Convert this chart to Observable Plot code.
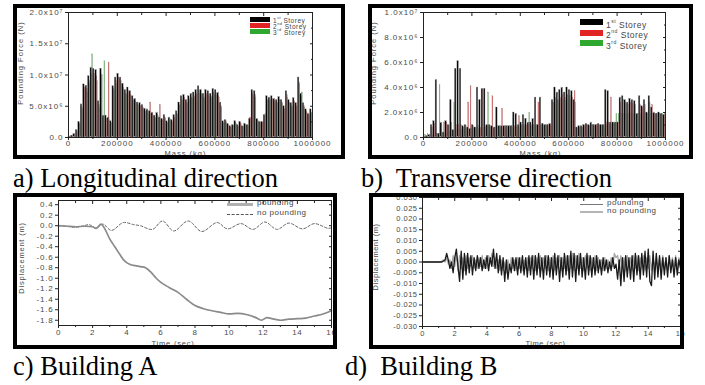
<!DOCTYPE html>
<html><head><meta charset="utf-8">
<script src="https://cdn.jsdelivr.net/npm/d3@7"></script>
<script src="https://cdn.jsdelivr.net/npm/@observablehq/plot@0.6"></script>
<style>
html,body{margin:0;padding:0;background:#fff;}
#page{position:relative;width:705px;height:385px;overflow:hidden;background:#fff;}
.panel{position:absolute;}
.panel svg{position:absolute;left:0;top:0;overflow:visible;}
.border{position:absolute;border:4px solid #000;box-sizing:border-box;pointer-events:none;}
.cap{position:absolute;font-family:"Liberation Serif","Times New Roman",Tinos,"DejaVu Serif",serif;font-size:26.5px;line-height:26px;white-space:pre;color:#000;}
.leg{position:absolute;font-family:"Liberation Sans",Arial,sans-serif;color:#444;white-space:nowrap;letter-spacing:0.5px;}
.sw{position:absolute;}
</style></head>
<body><div id="page"></div>
<script>
// ---------- DATA ----------
const storeyNames = ["1st Storey","2nd Storey","3rd Storey"];
const storeySup = [["1","st"],["2","nd"],["3","rd"]];
const storeyColors = ["#000000","#e02424","#2fa82f"];
const massStep = 10000; // kg, bin width (bins 10 000 ... 1 000 000)

// a) Longitudinal direction, pounding force in 10^6 N
const longBlack = [
 0.1,0.3,0.6,1.2,2.5,5.3,8.5,8.3,9.8,11.2,
 11.0,10.8,5.8,11.0,3.5,3.5,3.2,2.6,8.2,9.6,
 10.2,9.6,8.6,7.6,8.0,7.4,6.6,6.2,5.6,5.5,
 5.2,4.6,4.5,4.2,4.0,3.5,4.0,3.2,3.0,3.6,
 2.6,3.2,2.8,3.6,4.2,5.6,6.6,6.8,6.0,6.6,
 7.0,7.2,7.6,8.2,7.6,7.0,7.6,7.4,7.0,7.8,
 7.6,7.2,5.6,2.6,2.8,2.2,1.8,2.0,2.6,2.0,
 2.5,1.8,2.2,2.0,3.0,7.6,7.4,3.0,2.5,2.5,
 3.6,6.6,6.4,6.6,6.2,6.0,6.5,6.0,5.0,7.4,
 6.0,5.5,6.3,5.5,9.6,7.0,5.5,4.5,3.8,4.5];
const longRed = [
 0.1,0.2,0.5,1.0,2.2,4.8,8.0,7.8,9.0,10.2,
 10.2,9.8,5.2,10.0,3.2,3.0,12.0,2.4,7.8,9.0,
 9.6,9.0,8.0,7.0,7.4,6.8,6.0,5.8,5.2,5.0,
 4.8,4.2,4.2,5.6,3.8,3.2,3.6,5.2,2.8,3.2,
 2.4,3.0,2.6,3.2,3.8,5.2,6.0,6.4,5.6,6.2,
 6.4,6.6,7.0,7.4,7.0,6.4,7.0,6.8,6.5,7.2,
 7.0,6.6,5.0,2.4,2.6,2.0,1.6,1.9,2.4,1.8,
 2.3,1.7,2.0,1.9,3.2,7.0,6.8,2.8,2.4,2.4,
 3.4,6.0,6.0,6.2,5.8,5.6,6.0,5.6,4.6,6.8,
 5.6,5.0,5.8,5.0,8.8,6.5,5.0,4.2,3.5,4.0];
const longGreen = [
 0.0,0.2,0.4,0.8,2.0,4.5,7.5,7.2,8.6,13.3,
 9.5,9.0,4.8,10.0,12.2,3.0,2.8,2.2,7.5,8.6,
 9.2,8.6,7.6,6.8,7.0,6.5,5.8,5.5,5.0,4.8,
 4.5,4.0,3.8,3.6,3.5,3.0,3.4,2.8,2.6,3.0,
 2.2,2.8,2.4,3.0,3.6,5.0,5.8,6.0,5.4,5.8,
 6.2,6.4,6.8,7.0,6.8,6.2,6.6,6.5,6.2,6.8,
 6.6,6.4,4.8,2.2,2.4,1.9,1.5,1.8,2.2,1.7,
 2.2,1.6,1.9,1.8,2.8,6.6,6.4,2.6,2.3,2.4,
 3.8,5.8,5.8,6.0,5.6,5.4,5.8,5.4,4.4,6.4,
 5.4,4.8,5.6,4.8,8.5,7.2,4.8,4.0,3.6,3.8];

// b) Transverse direction, pounding force in 10^6 N
const transBlack = [
 0.05,0.1,0.2,1.0,1.3,4.6,0.3,1.2,0.4,1.3,
 1.0,3.0,0.6,5.5,6.1,5.5,0.9,1.0,0.8,0.7,
 1.0,0.8,4.0,3.0,3.9,3.9,1.0,1.0,0.9,0.8,
 2.4,0.9,0.9,0.9,0.9,0.9,0.9,2.0,1.9,1.0,
 1.2,1.8,1.5,1.2,1.2,1.5,3.2,1.0,3.2,1.1,
 1.0,1.0,1.1,3.0,4.0,3.6,3.8,4.0,3.6,4.0,
 3.8,3.7,3.0,0.8,0.9,0.9,1.0,1.1,1.0,1.2,
 1.0,1.0,1.1,1.0,1.0,3.8,3.7,1.2,1.2,1.2,
 1.2,3.2,3.3,3.0,2.8,3.1,3.0,2.9,1.9,3.3,
 2.5,3.0,2.0,3.3,2.4,2.0,1.9,2.0,1.9,1.8];
const transRed = [
 0.0,0.1,0.2,0.8,1.1,0.3,0.3,1.1,1.2,1.2,
 0.9,1.2,0.5,1.0,1.0,1.0,0.8,0.9,2.8,4.1,
 0.9,0.8,0.9,0.8,3.8,0.9,0.9,0.9,3.3,0.8,
 0.9,0.9,2.3,0.9,0.9,0.9,0.9,0.9,0.9,1.7,
 1.0,1.0,1.0,1.0,1.0,1.0,1.0,2.8,1.0,1.0,
 1.0,1.0,1.0,2.8,3.2,3.0,3.2,3.4,3.2,3.4,
 3.3,3.2,3.7,0.8,0.8,0.8,0.9,1.0,0.9,1.0,
 1.0,1.0,1.0,1.0,1.0,1.2,1.2,3.2,1.2,1.2,
 1.2,2.8,3.0,2.8,2.6,2.8,2.7,2.6,1.8,2.6,
 2.4,2.6,1.9,2.8,2.6,1.9,1.9,1.9,1.9,1.8];
const transGreen = [
 0.2,0.3,0.1,0.2,0.2,0.3,4.2,0.3,0.3,0.4,
 0.5,0.6,2.8,0.6,0.6,0.6,0.6,0.7,0.7,0.7,
 0.7,0.7,0.7,0.7,0.8,0.8,3.6,0.8,0.8,0.8,
 0.8,0.8,0.8,0.8,0.8,0.8,0.8,0.8,0.8,0.8,
 0.9,0.9,0.9,2.0,0.9,0.9,0.9,0.9,0.9,0.9,
 0.9,0.9,0.9,2.8,3.0,2.9,3.0,3.0,2.9,3.0,
 3.0,3.0,2.8,0.7,0.8,0.8,0.9,0.9,0.9,1.0,
 0.9,0.9,0.9,0.9,0.9,1.0,1.0,1.0,1.1,1.9,
 1.9,1.9,1.9,1.9,1.9,1.9,1.9,1.9,1.9,1.9,
 1.9,1.9,1.9,1.9,1.9,1.9,1.9,1.9,1.9,1.9];

const massTicks = [0,200000,400000,600000,800000,1000000];
const massMinor = [100000,300000,500000,700000,900000];
const longYTicks = [0,5,10,15,20];
const longYLabels = ["0.0","5.0x10\u2076","1.0x10\u2077","1.5x10\u2077","2.0x10\u2077"];
const transYTicks = [0,2,4,6,8,10];
const transYLabels = ["0.0","2.0x10\u2076","4.0x10\u2076","6.0x10\u2076","8.0x10\u2076","1.0x10\u2077"];

// c) Building A displacement (m)
const cPoundT = [0,0.5,1,1.5,2,2.2,2.5,2.7,3,3.3,3.6,3.9,4.2,4.5,4.8,5.1,5.4,5.7,6,6.5,7,7.5,8,8.5,9,9.5,10,10.5,11,11.5,11.9,12.2,12.5,13,13.5,14,14.5,15,15.5,16];
const cPoundV = [0,-0.01,-0.02,-0.01,-0.02,-0.05,0.03,-0.05,-0.25,-0.4,-0.55,-0.68,-0.74,-0.76,-0.78,-0.8,-0.88,-0.99,-1.08,-1.18,-1.27,-1.4,-1.52,-1.58,-1.62,-1.65,-1.68,-1.67,-1.69,-1.74,-1.8,-1.75,-1.77,-1.8,-1.78,-1.77,-1.76,-1.72,-1.68,-1.62];
const cNoT = [0,0.5,1,1.5,1.8,2.2,2.6,3.1,3.8,4.4,4.8,5.5,6.1,6.75,7.6,8.4,9.3,9.9,10.7,11.4,12.1,12.8,13.5,14.3,15.0,15.8,16];
const cNoV = [0,-0.01,-0.03,0.0,0.02,-0.05,0.03,-0.09,0.06,0.02,0.0,-0.07,0.09,-0.1,0.09,-0.11,0.06,-0.06,0.04,-0.07,0.07,-0.07,0.05,-0.06,0.04,-0.05,-0.04];
const cYTicks = [0.4,0.2,0,-0.2,-0.4,-0.6,-0.8,-1.0,-1.2,-1.4,-1.6,-1.8];
const timeTicks = [0,2,4,6,8,10,12,14,16];
const timeMinor = [1,3,5,7,9,11,13,15];

// d) Building B displacement (m), sampled every 0.1 s, one row per second
const dStep = 0.1;
const dPoundRows = [
 [0,0,0,0,0,0,0,0,0,0],
 [0,0,0,0.0005,0.001,0.004,0.001,-0.003,0.000,-0.005],
 [0.002,0.006,-0.002,-0.009,0.005,-0.008,0.004,-0.006,0.004,-0.005],
 [0.003,-0.006,0.002,-0.004,0.003,-0.003,0.002,-0.004,0.001,-0.003],
 [0.003,-0.004,0.002,-0.002,0.006,-0.003,0.004,-0.005,0.003,-0.006],
 [0.002,-0.009,0.001,-0.008,-0.001,-0.005,0.002,-0.004,0.002,-0.006],
 [0.002,-0.005,0.003,-0.006,0.002,-0.007,0.003,-0.006,0.003,-0.008],
 [0.003,-0.006,0.004,-0.007,0.002,-0.008,0.003,-0.006,0.003,-0.007],
 [0.002,-0.008,0.004,-0.006,0.003,-0.009,0.002,-0.007,0.004,-0.006],
 [0.003,-0.008,0.005,-0.007,0.004,-0.009,0.003,-0.006,0.004,-0.007],
 [0.002,-0.008,0.004,-0.006,0.003,-0.007,0.002,-0.006,0.003,-0.005],
 [0.001,-0.006,0.002,-0.004,0.001,-0.005,0.000,-0.004,0.002,-0.003],
 [-0.001,-0.008,0.001,-0.011,0.002,-0.009,0.003,-0.007,0.002,-0.008],
 [0.003,-0.009,0.004,-0.006,0.003,-0.008,0.004,-0.006,0.005,-0.007],
 [0.006,-0.009,-0.011,0.005,-0.008,0.004,-0.007,0.003,-0.008,0.002],
 [-0.006,0.002,-0.007,0.003,-0.005,0.001,-0.007,0.002,-0.006,0.001],
 [-0.003]];
const dNoRows = [
 [0,0,0,0,0,0,0,0,0,0],
 [0,0,0.0005,0.001,0,0.002,-0.001,0.001,-0.003,0.003],
 [-0.002,0.004,-0.004,0.003,-0.003,0.002,-0.004,0.003,-0.003,0.002],
 [-0.002,0.003,-0.003,0.001,-0.003,0.002,-0.002,0.003,-0.003,0.002],
 [-0.003,0.003,-0.001,0.004,-0.002,0.002,-0.003,0.001,-0.004,0.001],
 [-0.004,0.000,-0.005,0.001,-0.004,0.002,-0.003,0.001,-0.004,0.002],
 [-0.003,0.002,-0.004,0.001,-0.003,0.002,-0.004,0.002,-0.003,0.003],
 [-0.004,0.002,-0.003,0.003,-0.004,0.002,-0.003,0.003,-0.004,0.002],
 [-0.003,0.003,-0.004,0.002,-0.003,0.003,-0.004,0.002,-0.003,0.003],
 [-0.004,0.003,-0.003,0.004,-0.004,0.003,-0.003,0.004,-0.003,0.002],
 [-0.004,0.003,-0.003,0.003,-0.004,0.002,-0.003,0.003,-0.004,0.002],
 [-0.003,0.001,-0.004,0.002,-0.003,0.001,-0.003,0.002,-0.002,0.004],
 [0.002,0.003,-0.002,0.003,-0.003,0.002,-0.004,0.003,-0.003,0.002],
 [-0.004,0.003,-0.003,0.003,-0.004,0.002,-0.003,0.003,-0.004,0.002],
 [-0.003,0.003,-0.004,0.002,-0.003,0.003,-0.004,0.002,-0.003,0.003],
 [-0.003,0.002,-0.004,0.003,-0.003,0.002,-0.003,0.003,-0.003,0.002],
 [-0.001]];
const dYTicks = [0.03,0.025,0.02,0.015,0.01,0.005,0,-0.005,-0.01,-0.015,-0.02,-0.025,-0.03];
const lineLegend = ["pounding","no pounding"];
const captions = ["a) Longitudinal direction","b)  Transverse direction","c) Building A","d)  Building B"];

// ---------- LAYOUT ----------
const page = document.getElementById("page");
const FONT = '"Liberation Sans", Arial, sans-serif';
const INK = "#222", TXT = "#4a4a4a";

function addPanel(box, svg, spacing) {
  const div = document.createElement("div");
  div.className = "panel";
  Object.assign(div.style, {left: box.x + "px", top: box.y + "px", width: box.w + "px", height: box.h + "px"});
  svg.style.letterSpacing = spacing;
  div.appendChild(svg);
  page.appendChild(div);
  const b = document.createElement("div");
  b.className = "border";
  Object.assign(b.style, {left: box.x + "px", top: box.y + "px", width: box.w + "px", height: box.h + "px"});
  page.appendChild(b);
}

// o.xt / o.yt: [offset from frame, shift along the axis] for the axis titles
function frameAxes(o) {
  return [
    Plot.frame({stroke: INK, strokeWidth: 1}),
    Plot.axisX({anchor: "bottom", ticks: o.xTicks, tickSize: 3, tickPadding: o.pad, stroke: INK, fill: TXT,
      tickFormat: o.xFmt, label: null}),
    Plot.axisX({anchor: "bottom", ticks: o.xMinor, tickSize: 2, stroke: INK, tickFormat: () => "", label: null}),
    Plot.axisX({anchor: "top", ticks: o.xTicks, tickSize: 3, dy: 3, stroke: INK, tickFormat: () => "", label: null}),
    Plot.axisX({anchor: "top", ticks: o.xMinor, tickSize: 2, dy: 2, stroke: INK, tickFormat: () => "", label: null}),
    Plot.axisY({anchor: "left", ticks: o.yTicks, tickSize: 3, tickPadding: 2, stroke: INK, fill: TXT,
      tickFormat: o.yFmt, label: null}),
    Plot.axisY({anchor: "right", ticks: o.yTicks, tickSize: 3, dx: -3, stroke: INK, tickFormat: () => "", label: null}),
    Plot.text([o.xLabel], {frameAnchor: "bottom", text: d => d, dy: o.xt[0], dx: o.xt[1], lineAnchor: "bottom",
      fill: TXT, fontSize: 7.5}),
    Plot.text([o.yLabel], {frameAnchor: "left", text: d => d, dx: -o.yt[0], dy: o.yt[1], rotate: -90, lineAnchor: "top",
      textAnchor: "middle", fill: TXT, fontSize: 7.5})
  ];
}

// bar slot within each mass bin, as fractions of the bin: black wide, red and green narrow behind it
const slot = [[0, 0.62], [0.5, 0.82], [0.74, 1.0]];

function barPanel(box, m, series, yDomain, yTicks, yLabels, yMinor, xt, yt) {
  const rows = [];
  [2, 1, 0].forEach(s => series[s].forEach((v, i) => {
    const left = i * massStep;
    rows.push({x1: left + slot[s][0] * massStep, x2: left + slot[s][1] * massStep, y: v, storey: storeyNames[s]});
  }));
  const svg = Plot.plot({
    width: box.w, height: box.h,
    marginLeft: m[0], marginTop: m[1], marginRight: m[2], marginBottom: m[3],
    style: {fontFamily: FONT, fontSize: "8px", background: "transparent", color: INK},
    x: {domain: [0, 1000000]},
    y: {domain: yDomain},
    color: {domain: storeyNames, range: storeyColors},
    marks: [
      Plot.rect(rows, {x1: "x1", x2: "x2", y1: 0, y2: "y", fill: "storey", stroke: "#9a9a9a", strokeWidth: 0.35}),
      ...frameAxes({xTicks: massTicks, xMinor: massMinor, xFmt: d => String(d), xLabel: "Mass (kg)", xt, pad: 0,
        yTicks, yFmt: d => yLabels[yTicks.indexOf(d)], yLabel: "Pounding Force (N)", yt}),
      Plot.axisY({anchor: "right", ticks: yMinor, tickSize: 2, dx: -2, stroke: INK, tickFormat: () => "", label: null})
    ]
  });
  addPanel(box, svg, "1px");
}

function barLegend(x, y, gap, sw, sh, fs) {
  storeyNames.forEach((name, i) => {
    const s = document.createElement("div");
    s.className = "sw";
    Object.assign(s.style, {left: x + "px", top: (y + i * gap - sh / 2) + "px", width: sw + "px", height: sh + "px", background: storeyColors[i]});
    page.appendChild(s);
    const t = document.createElement("div");
    t.className = "leg";
    Object.assign(t.style, {left: (x + sw + 3) + "px", top: (y + i * gap - fs * 0.62) + "px", fontSize: fs + "px", lineHeight: fs + "px"});
    t.innerHTML = storeySup[i][0] + '<sup style="font-size:60%;vertical-align:55%">' + storeySup[i][1] + '</sup> Storey';
    page.appendChild(t);
  });
}

function lineLegend2(x, y, gap, sw, fs, styles) {
  lineLegend.forEach((name, i) => {
    const s = document.createElement("div");
    s.className = "sw";
    Object.assign(s.style, {left: x + "px", top: (y + i * gap - styles[i].w / 2) + "px", width: sw + "px", height: "0px",
      borderTop: styles[i].w + "px " + styles[i].dash + " " + styles[i].c});
    page.appendChild(s);
    const t = document.createElement("div");
    t.className = "leg";
    Object.assign(t.style, {left: (x + sw + 4) + "px", top: (y + i * gap - fs * 0.6) + "px", fontSize: fs + "px", lineHeight: fs + "px"});
    t.textContent = name;
    page.appendChild(t);
  });
}

// a)
barPanel({x: 13, y: 4, w: 332, h: 155}, [55, 8, 33, 22], [longBlack, longRed, longGreen],
  [0, 20], longYTicks, longYLabels, [2.5, 7.5, 12.5, 17.5], [18.5, -5], [51, -12]);
barLegend(250, 19, 6, 20, 5, 6.5);
// b)
barPanel({x: 368, y: 4, w: 325, h: 155}, [55, 8, 28, 22], [transBlack, transRed, transGreen],
  [0, 10], transYTicks, transYLabels, [1, 3, 5, 7, 9], [18.5, -4], [53, -12]);
barLegend(580, 22, 10.5, 23, 6, 8.5);

// c)
{
  const box = {x: 13, y: 193, w: 324, h: 156};
  const pound = cPoundT.map((t, i) => ({t, v: cPoundV[i]}));
  const nopound = cNoT.map((t, i) => ({t, v: cNoV[i]}));
  const svg = Plot.plot({
    width: box.w, height: box.h,
    marginLeft: 45, marginTop: 7, marginRight: 6, marginBottom: 24,
    style: {fontFamily: FONT, fontSize: "8px", background: "transparent", color: INK},
    x: {domain: [0, 16]},
    y: {domain: [-1.9, 0.48]},
    marks: [
      Plot.line(nopound, {x: "t", y: "v", stroke: "#666", strokeWidth: 1, strokeDasharray: "2.5,2", curve: "catmull-rom"}),
      Plot.line(pound, {x: "t", y: "v", stroke: "#8a8a8a", strokeWidth: 1.7, curve: "catmull-rom"}),
      ...frameAxes({xTicks: timeTicks, xMinor: timeMinor, xFmt: d => String(d), xLabel: "Time (sec)", xt: [20, -22], pad: 1,
        yTicks: cYTicks, yFmt: d => d.toFixed(1), yLabel: "Displacement (m)", yt: [40, -5]})
    ]
  });
  addPanel(box, svg, "0.8px");
  lineLegend2(227, 204, 10, 26, 8, [{w: 3, dash: "solid", c: "#b0b0b0"}, {w: 1, dash: "dashed", c: "#555"}]);
}

// d)
{
  const box = {x: 369, y: 193, w: 315, h: 156};
  const pound = dPoundRows.flat().map((v, i) => ({t: i * dStep, v}));
  const nopound = dNoRows.flat().map((v, i) => ({t: i * dStep, v}));
  const svg = Plot.plot({
    width: box.w, height: box.h,
    marginLeft: 53, marginTop: 4, marginRight: 4, marginBottom: 23,
    style: {fontFamily: FONT, fontSize: "7.5px", background: "transparent", color: INK},
    x: {domain: [0, 16]},
    y: {domain: [-0.03, 0.03]},
    marks: [
      Plot.line(nopound, {x: "t", y: "v", stroke: "#a8a8a8", strokeWidth: 1.3}),
      Plot.line(pound, {x: "t", y: "v", stroke: "#1a1a1a", strokeWidth: 1.3}),
      ...frameAxes({xTicks: timeTicks, xMinor: timeMinor, xFmt: d => String(d), xLabel: "Time (sec)", xt: [19, -6], pad: 1,
        yTicks: dYTicks, yFmt: d => d.toFixed(3), yLabel: "Displacement (m)", yt: [50, -5]})
    ]
  });
  addPanel(box, svg, "0.5px");
  lineLegend2(580, 204, 8, 23, 8, [{w: 1, dash: "solid", c: "#777"}, {w: 2, dash: "solid", c: "#b5b5b5"}]);
}

// captions
[[13, 165], [361, 165], [13, 353], [345, 353]].forEach(([x, y], i) => {
  const c = document.createElement("div");
  c.className = "cap";
  Object.assign(c.style, {left: x + "px", top: y + "px"});
  c.textContent = captions[i];
  page.appendChild(c);
});
</script></body></html>
